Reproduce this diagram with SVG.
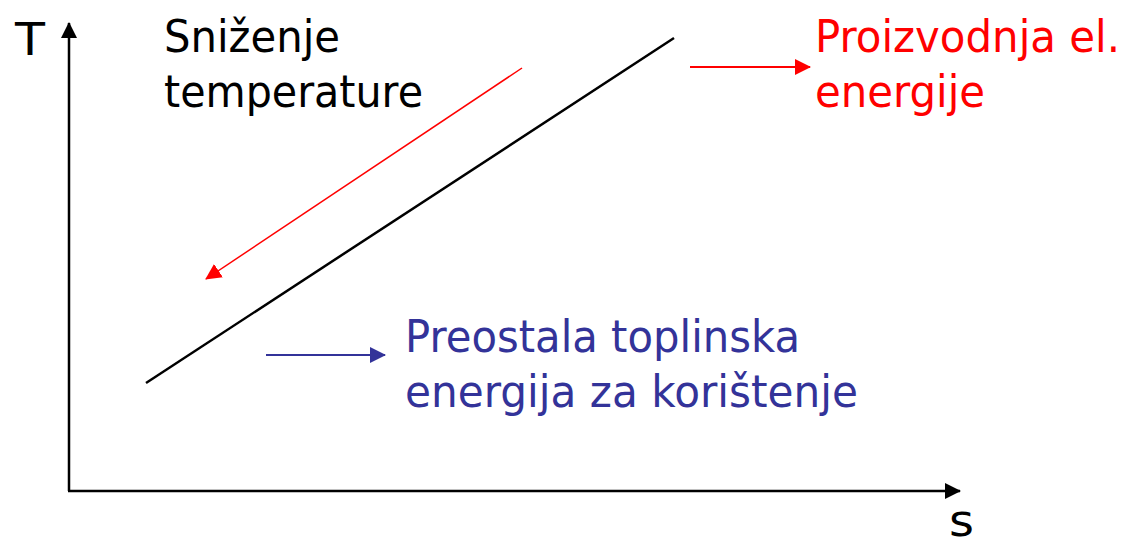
<svg xmlns="http://www.w3.org/2000/svg" width="1126" height="540" viewBox="0 0 1126 540">
<style>
text{font-family:"DejaVu Sans","Liberation Sans",sans-serif;font-size:45px}
.blk{fill:#000}.red{fill:#ff0000}.blu{fill:#333399}
</style>
<defs>
<marker id="ab" markerWidth="16" markerHeight="16" refX="15" refY="8" markerUnits="userSpaceOnUse" orient="auto"><path d="M0,0 L16,8 L0,16 Z" fill="#000"/></marker>
<marker id="ar" markerWidth="16" markerHeight="16" refX="15" refY="8" markerUnits="userSpaceOnUse" orient="auto"><path d="M0,0 L16,8 L0,16 Z" fill="#ff0000"/></marker>
<marker id="au" markerWidth="16" markerHeight="16" refX="15" refY="8" markerUnits="userSpaceOnUse" orient="auto"><path d="M0,0 L16,8 L0,16 Z" fill="#333399"/></marker>
</defs>
<rect width="1126" height="540" fill="#fff"/>
<g id="connectors" fill="none">
<path d="M69,491 L69,23" stroke="#000" stroke-width="2.5" marker-end="url(#ab)"/>
<path d="M68,491 L960,491" stroke="#000" stroke-width="2.5" marker-end="url(#ab)"/>
<path d="M146,383 L674,38" stroke="#000" stroke-width="2.5"/>
<path d="M522,68 L206,279" stroke="#ff0000" stroke-width="1.5" marker-end="url(#ar)"/>
<path d="M690,67 L810,67" stroke="#ff0000" stroke-width="2" marker-end="url(#ar)"/>
<path d="M266,355 L385,355" stroke="#333399" stroke-width="2" marker-end="url(#au)"/>
</g>
<g id="axis-T"><text class="blk" x="15" y="55" textLength="30" lengthAdjust="spacingAndGlyphs">T</text></g>
<g id="axis-s"><text class="blk" x="949" y="536" textLength="25" lengthAdjust="spacingAndGlyphs">s</text></g>
<g id="label-snizenje">
<text class="blk" x="164" y="52" textLength="176" lengthAdjust="spacingAndGlyphs">Sniženje</text>
<text class="blk" x="164" y="107" textLength="259" lengthAdjust="spacingAndGlyphs">temperature</text>
</g>
<g id="label-proizvodnja">
<text class="red" x="815" y="52" textLength="305" lengthAdjust="spacingAndGlyphs">Proizvodnja el.</text>
<text class="red" x="815" y="107" textLength="170" lengthAdjust="spacingAndGlyphs">energije</text>
</g>
<g id="label-preostala">
<text class="blu" x="405" y="352" textLength="395" lengthAdjust="spacingAndGlyphs">Preostala toplinska</text>
<text class="blu" x="405" y="407" textLength="453" lengthAdjust="spacingAndGlyphs">energija za korištenje</text>
</g>
</svg>
